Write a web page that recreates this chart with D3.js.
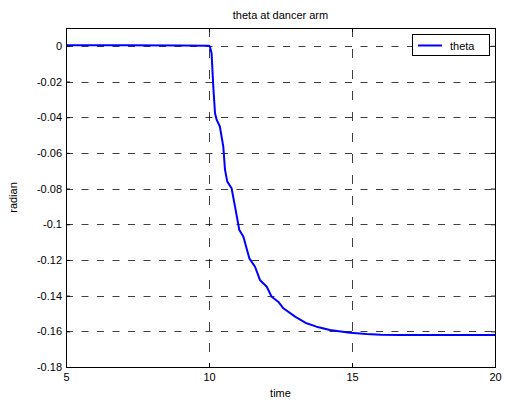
<!DOCTYPE html>
<html>
<head>
<meta charset="utf-8">
<script src="https://cdn.jsdelivr.net/npm/d3@7"></script>
<style>
  html, body { margin: 0; padding: 0; background: #fff; }
  svg { display: block; font-family: "Liberation Sans", Arial, sans-serif; }
</style>
</head>
<body>
<div id="chart"></div>
<script>
// values
const time  = [5, 7, 9, 10, 10.03, 10.09, 10.15, 10.21, 10.27, 10.38, 10.50, 10.56, 10.64, 10.79, 10.91,
               11.06, 11.20, 11.41, 11.61, 11.78, 12.02, 12.19, 12.42, 12.60, 13.01, 13.41, 13.76,
               14.23, 14.93, 15.51, 16.0, 16.68, 18, 20];
const theta = [0.0003, 0.0003, 0.0002, 0.0001, -0.0004, -0.0041, -0.0228, -0.0378, -0.0415, -0.0452,
               -0.0565, -0.0695, -0.0761, -0.0798, -0.0901, -0.1032, -0.1069, -0.1191, -0.1238, -0.1312,
               -0.1350, -0.1406, -0.1434, -0.1471, -0.1518, -0.1555, -0.1574, -0.1593, -0.1608, -0.1615,
               -0.1619, -0.1621, -0.1621, -0.1621];
const xTicks = [5, 10, 15, 20];
const yTicks = [0, -0.02, -0.04, -0.06, -0.08, -0.1, -0.12, -0.14, -0.16, -0.18];
const seriesName = "theta";

const width  = 505,
      height = 403,
      margin = {top: 28, right: 10, bottom: 36, left: 66},
      innerW = width - margin.left - margin.right,
      innerH = height - margin.top - margin.bottom;

const x = d3.scaleLinear().domain([5, 20]).range([0, innerW]);
const y = d3.scaleLinear().domain([-0.18, 0.01]).range([innerH, 0]);

const svg = d3.select("#chart").append("svg")
    .attr("width", width)
    .attr("height", height);

svg.append("rect").attr("width", width).attr("height", height).attr("fill", "#fff");

const g = svg.append("g")
    .attr("transform", "translate(" + margin.left + "," + margin.top + ")");

// grid (dashed, matlab style)
g.append("g").selectAll("line")
    .data(yTicks)
    .join("line")
    .attr("x1", 0).attr("x2", innerW)
    .attr("y1", d => Math.round(y(d)) + 0.5).attr("y2", d => Math.round(y(d)) + 0.5)
    .attr("stroke", "#000").attr("stroke-width", 1)
    .attr("stroke-dasharray", "7,8.5")
    .attr("stroke-opacity", 0.75);

g.append("g").selectAll("line")
    .data(xTicks.slice(1, -1))
    .join("line")
    .attr("y1", 0).attr("y2", innerH)
    .attr("x1", d => Math.round(x(d)) + 0.5).attr("x2", d => Math.round(x(d)) + 0.5)
    .attr("stroke", "#000").attr("stroke-width", 1)
    .attr("stroke-dasharray", "9,12")
    .attr("stroke-opacity", 0.75);

const fmt = d => String(+d.toFixed(2));

// axes, ticks pointing inward
const xAxis = g.append("g")
    .attr("transform", "translate(0," + innerH + ")")
    .call(d3.axisBottom(x).tickValues(xTicks).tickSizeInner(-4).tickSizeOuter(0).tickPadding(6).tickFormat(fmt));
const xTop = g.append("g")
    .call(d3.axisTop(x).tickValues(xTicks).tickSizeInner(-4).tickSizeOuter(0).tickFormat(""));
const yAxis = g.append("g")
    .call(d3.axisLeft(y).tickValues(yTicks).tickSizeInner(-4).tickSizeOuter(0).tickPadding(4).tickFormat(fmt));
const yRight = g.append("g")
    .attr("transform", "translate(" + innerW + ",0)")
    .call(d3.axisRight(y).tickValues(yTicks).tickSizeInner(-4).tickSizeOuter(0).tickFormat(""));

[xAxis, xTop, yAxis, yRight].forEach(a => {
    a.select(".domain").remove();
    a.selectAll("text").attr("font-size", 11).attr("fill", "#000")
        .attr("font-family", "'Liberation Sans', Arial, sans-serif");
    a.selectAll("line").attr("stroke", "#000");
});

// series
const line = d3.line()
    .x((d, i) => x(time[i]))
    .y(d => y(d));

g.append("path")
    .datum(theta)
    .attr("fill", "none")
    .attr("stroke", "#0000ff")
    .attr("stroke-width", 2)
    .attr("stroke-linejoin", "round")
    .attr("d", line);

// axes box
g.append("rect")
    .attr("x", 0.5).attr("y", 0.5)
    .attr("width", innerW).attr("height", innerH)
    .attr("fill", "none").attr("stroke", "#000").attr("stroke-width", 1);

// legend
const legend = svg.append("g").attr("transform", "translate(412,34)");
legend.append("rect")
    .attr("x", 0.5).attr("y", 0.5).attr("width", 77).attr("height", 21)
    .attr("fill", "#fff").attr("stroke", "#000");
legend.append("line")
    .attr("x1", 6).attr("x2", 30).attr("y1", 11.5).attr("y2", 11.5)
    .attr("stroke", "#0000ff").attr("stroke-width", 2);
legend.append("text")
    .attr("x", 38).attr("y", 15.5)
    .attr("font-size", 11)
    .text(seriesName);

// titles
svg.append("text")
    .attr("x", margin.left + innerW / 2).attr("y", 18.5)
    .attr("text-anchor", "middle").attr("font-size", 11)
    .text("theta at dancer arm");

svg.append("text")
    .attr("x", margin.left + innerW / 2).attr("y", 397)
    .attr("text-anchor", "middle").attr("font-size", 11)
    .text("time");

svg.append("text")
    .attr("transform", "translate(17," + (margin.top + innerH / 2) + ") rotate(-90)")
    .attr("text-anchor", "middle").attr("font-size", 11)
    .text("radian");
</script>
</body>
</html>
